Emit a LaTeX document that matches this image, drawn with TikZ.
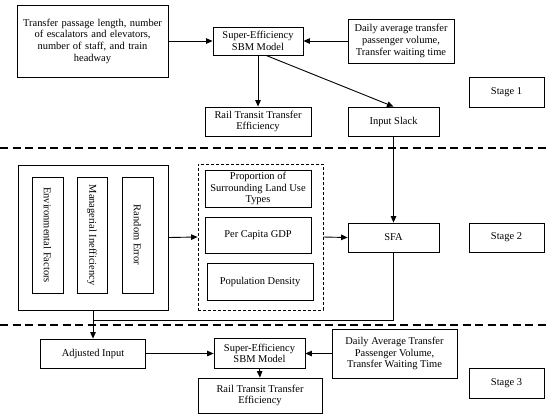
\documentclass[tikz,border=0pt]{standalone}
\usepackage{fontspec}
\setmainfont{Liberation Serif}
\usetikzlibrary{arrows.meta,calc}
\tikzset{
  fnt/.style={font=\fontsize{10.5}{11.7}\selectfont},
  box/.style={draw, line width=0.8bp, inner sep=1bp, align=center, fnt},
  arr/.style={-{Triangle[length=6.5bp,width=5.5bp]}, line width=0.9bp},
  conn/.style={line width=0.9bp},
  stagesep/.style={line width=1.6bp, dash pattern=on 8bp off 4.5bp},
  grp/.style={draw, line width=0.8bp, dash pattern=on 3bp off 2bp},
}
\begin{document}
\begin{tikzpicture}[x=1bp,y=-1bp]
\useasboundingbox[fill=white] (0,0) rectangle (550,417);
% Stage 1
\node[box, minimum width=151bp, minimum height=72bp, text width=148bp] (a) at (92.5,41) {Transfer passage length, number\\of escalators and elevators,\\number of staff, and train\\headway};
\node[box, minimum width=90bp, minimum height=28bp] (sbm1) at (258,41) {Super-Efficiency\\SBM Model};
\node[box, minimum width=106bp, minimum height=44bp] (daily1) at (401,41) {Daily average transfer\\passenger volume,\\Transfer waiting time};
\node[box, minimum width=75bp, minimum height=30bp] (st1) at (506.5,92) {Stage 1};
\node[box, minimum width=106bp, minimum height=29bp] (rail1) at (258,121.5) {Rail Transit Transfer\\Efficiency};
\node[box, minimum width=91bp, minimum height=29bp] (slack) at (393.5,121.5) {Input Slack};
\draw[stagesep] (0,148) -- (550,148);
% Stage 2
\node[box, minimum width=150bp, minimum height=145bp] (outer) at (93,237.5) {};
\node[box, minimum width=31bp, minimum height=116bp] (env) at (47.5,235) {};
\node[rotate=-90, fnt] (envt) at (env.center) {Environmental Factors};
\node[box, minimum width=30bp, minimum height=116bp] (man) at (92,235) {};
\node[rotate=-90, fnt] (mant) at (man.center) {Managerial Inefficiency};
\node[box, minimum width=31bp, minimum height=116bp] (rnd) at (137.5,235) {};
\node[rotate=-90, fnt] (rndt) at (rnd.center) {Random Error};
\node[grp, minimum width=125bp, minimum height=146bp] (grp) at (260.5,237) {};
\node[box, minimum width=106bp, minimum height=37bp] (prop) at (258,188.5) {Proportion of\\Surrounding Land Use\\Types};
\node[box, minimum width=106bp, minimum height=36bp] (gdp) at (258,235) {Per Capita GDP};
\node[box, minimum width=106bp, minimum height=37bp] (pop) at (260,281.5) {Population Density};
\node[box, minimum width=91bp, minimum height=29bp] (sfa) at (393.5,237.5) {SFA};
\node[box, minimum width=75bp, minimum height=29bp] (st2) at (506.5,237.5) {Stage 2};
\draw[stagesep] (0,325) -- (550,325);
% Stage 3
\node[box, minimum width=105bp, minimum height=29bp] (adj) at (93,353.5) {Adjusted Input};
\node[box, minimum width=91bp, minimum height=30bp] (sbm2) at (259.5,353.5) {Super-Efficiency\\SBM Model};
\node[box, minimum width=124bp, minimum height=35bp] (rail2) at (260,395.5) {Rail Transit Transfer\\Efficiency};
\node[box, minimum width=125bp, minimum height=49bp] (daily2) at (394.5,353.5) {Daily Average Transfer\\Passenger Volume,\\Transfer Waiting Time};
\node[box, minimum width=75bp, minimum height=30bp] (st3) at (506.5,383) {Stage 3};
\coordinate (j) at (93,320);
% connectors
\draw[arr] (a.east) -- (sbm1.west);
\draw[arr] (daily1.west) -- (sbm1.east);
\draw[arr] (sbm1.south) -- (rail1.north);
\draw[arr] ($(sbm1.south)+(8,0)$) -- (slack.north);
\draw[arr] (slack.south) -- (sfa.north);
\draw[arr] (outer.east) -- (grp.west);
\draw[arr] (grp.east) -- (sfa.west);
\draw[conn] (sfa.south) |- (j);
\draw[arr] (outer.south) -- (adj.north);
\draw[arr] (adj.east) -- (sbm2.west);
\draw[arr] (daily2.west) -- (sbm2.east);
\draw[arr] (sbm2.south) -- (rail2.north);
\end{tikzpicture}
\end{document}
